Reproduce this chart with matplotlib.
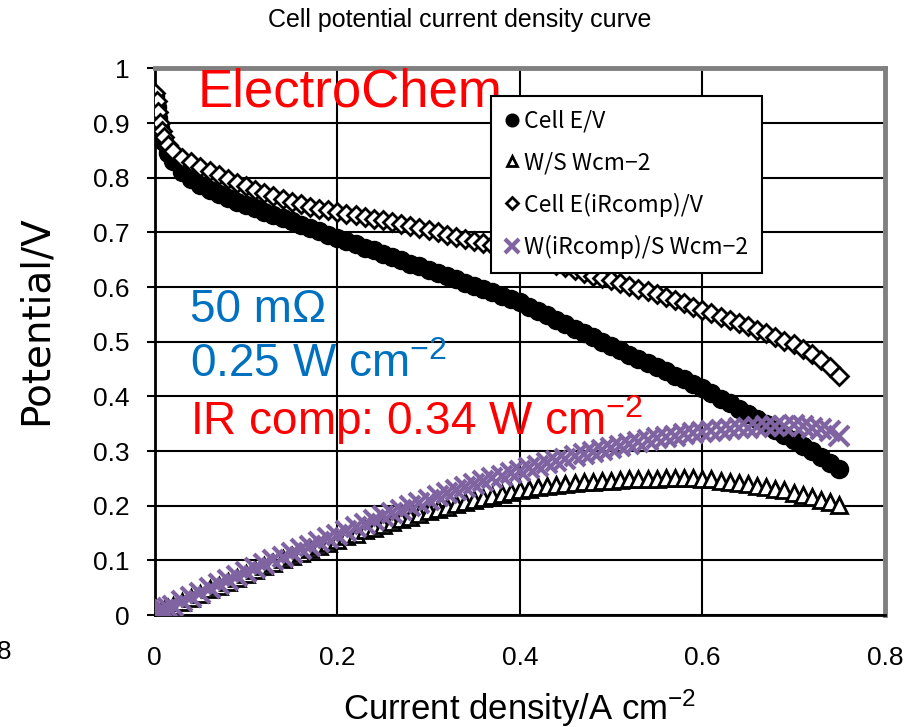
import matplotlib
matplotlib.use("Agg")
import matplotlib.pyplot as plt

# current density / A cm-2
current = [0, 0.002, 0.004, 0.006, 0.008, 0.01, 0.015,
           0.02, 0.03, 0.04, 0.05, 0.06, 0.07, 0.08, 0.09, 0.10, 0.11,
           0.12, 0.13, 0.14, 0.15, 0.16, 0.17, 0.18, 0.19, 0.20, 0.21,
           0.22, 0.23, 0.24, 0.25, 0.26, 0.27, 0.28, 0.29, 0.30, 0.31,
           0.32, 0.33, 0.34, 0.35, 0.36, 0.37, 0.38, 0.39, 0.40, 0.41,
           0.42, 0.43, 0.44, 0.45, 0.46, 0.47, 0.48, 0.49, 0.50, 0.51,
           0.52, 0.53, 0.54, 0.55, 0.56, 0.57, 0.58, 0.59, 0.60, 0.61,
           0.62, 0.63, 0.64, 0.65, 0.66, 0.67, 0.68, 0.69, 0.70, 0.71,
           0.72, 0.73, 0.74, 0.75]

cell_e = [0.95, 0.93, 0.91, 0.89, 0.875, 0.865, 0.845,
          0.83, 0.81, 0.797, 0.787, 0.778, 0.770, 0.763, 0.756, 0.750, 0.744,
          0.738, 0.732, 0.726, 0.720, 0.714, 0.708, 0.702, 0.696, 0.690, 0.684,
          0.678, 0.672, 0.667, 0.661, 0.655, 0.649, 0.643, 0.638, 0.632, 0.626,
          0.620, 0.614, 0.608, 0.602, 0.596, 0.590, 0.584, 0.578, 0.572, 0.564,
          0.556, 0.548, 0.540, 0.532, 0.524, 0.516, 0.508, 0.500, 0.492, 0.484,
          0.476, 0.469, 0.461, 0.453, 0.446, 0.438, 0.431, 0.423, 0.415, 0.406,
          0.396, 0.387, 0.377, 0.368, 0.358, 0.349, 0.339, 0.330, 0.320, 0.310,
          0.300, 0.289, 0.279, 0.268]

power = [0, 0.002, 0.004, 0.005, 0.007, 0.009, 0.013,
         0.017, 0.024, 0.032, 0.039, 0.047, 0.054, 0.061, 0.068, 0.075, 0.082,
         0.089, 0.095, 0.102, 0.108, 0.114, 0.120, 0.126, 0.132, 0.138, 0.144,
         0.149, 0.155, 0.160, 0.165, 0.170, 0.175, 0.180, 0.185, 0.190, 0.194,
         0.198, 0.203, 0.207, 0.211, 0.215, 0.218, 0.222, 0.225, 0.229, 0.231,
         0.234, 0.236, 0.238, 0.239, 0.241, 0.243, 0.244, 0.245, 0.246, 0.247,
         0.248, 0.249, 0.249, 0.249, 0.250, 0.250, 0.250, 0.250, 0.249, 0.248,
         0.246, 0.244, 0.241, 0.239, 0.236, 0.234, 0.231, 0.228, 0.224, 0.220,
         0.216, 0.211, 0.206, 0.201]

cell_e_ir = [0.955, 0.94, 0.92, 0.90, 0.885, 0.875, 0.86,
             0.848, 0.836, 0.828, 0.820, 0.812, 0.805, 0.798, 0.791, 0.784, 0.778,
             0.772, 0.766, 0.761, 0.756, 0.751, 0.747, 0.743, 0.740, 0.737, 0.734,
             0.731, 0.728, 0.725, 0.722, 0.719, 0.716, 0.712, 0.708, 0.704, 0.700,
             0.696, 0.692, 0.688, 0.684, 0.680, 0.676, 0.671, 0.666, 0.661, 0.656,
             0.651, 0.646, 0.641, 0.636, 0.631, 0.626, 0.621, 0.617, 0.612, 0.607,
             0.602, 0.597, 0.592, 0.587, 0.581, 0.576, 0.570, 0.564, 0.558, 0.552,
             0.546, 0.540, 0.534, 0.528, 0.521, 0.515, 0.508, 0.502, 0.495, 0.486,
             0.477, 0.466, 0.454, 0.437]

power_ir = [0, 0.002, 0.004, 0.005, 0.007, 0.009, 0.013,
            0.017, 0.025, 0.033, 0.041, 0.049, 0.056, 0.064, 0.071, 0.078, 0.086,
            0.093, 0.100, 0.107, 0.113, 0.120, 0.127, 0.134, 0.141, 0.147, 0.154,
            0.161, 0.167, 0.174, 0.181, 0.187, 0.193, 0.199, 0.205, 0.211, 0.217,
            0.223, 0.228, 0.234, 0.239, 0.245, 0.250, 0.255, 0.260, 0.264, 0.269,
            0.273, 0.278, 0.282, 0.286, 0.290, 0.294, 0.298, 0.302, 0.306, 0.310,
            0.313, 0.316, 0.320, 0.323, 0.325, 0.328, 0.331, 0.333, 0.335, 0.337,
            0.339, 0.340, 0.342, 0.343, 0.344, 0.345, 0.345, 0.346, 0.347, 0.345,
            0.343, 0.340, 0.336, 0.328]

x_ticks = [0, 0.2, 0.4, 0.6, 0.8]
y_ticks = [0, 0.1, 0.2, 0.3, 0.4, 0.5, 0.6, 0.7, 0.8, 0.9, 1]

plt.rcParams['font.family'] = ['Liberation Sans', 'DejaVu Sans']
plt.rcParams['mathtext.fontset'] = 'custom'
plt.rcParams['mathtext.rm'] = 'Liberation Sans'
plt.rcParams['mathtext.it'] = 'Liberation Sans:italic'
plt.rcParams['mathtext.default'] = 'regular'

fig = plt.figure(figsize=(9.16, 7.27), dpi=100)
ax = fig.add_axes([0.169, 0.154, 0.797, 0.752])

ax.plot(current, cell_e, 'o', color='black', markersize=13, zorder=3,
        label='Cell E/V')
ax.plot(current, power, '^', mfc='white', mec='black', mew=2, markersize=11,
        zorder=4, label='W/S Wcm\u22122')
ax.plot(current, cell_e_ir, 'D', mfc='white', mec='black', mew=2, markersize=9,
        zorder=5, label='Cell E(iRcomp)/V')
ax.plot(current, power_ir, 'x', color='#8064A2', mew=3, markersize=14,
        zorder=6, label='W(iRcomp)/S Wcm\u22122')

ax.set_xlim(0, 0.8)
ax.set_ylim(0, 1)
ax.set_xticks(x_ticks)
ax.set_xticklabels([f'{v:g}' for v in x_ticks])
ax.set_yticks(y_ticks)
ax.set_yticklabels([f'{v:g}' for v in y_ticks])
ax.tick_params(axis='x', length=0, pad=22, labelsize=19)
ax.tick_params(axis='y', length=6, width=1.5, pad=12, labelsize=19)
ax.grid(True, color='black', linewidth=1.5, zorder=1)
ax.set_axisbelow(True)

for s in ['left', 'bottom']:
    ax.spines[s].set_color('black')
    ax.spines[s].set_linewidth(2)
for s in ['top', 'right']:
    ax.spines[s].set_color('#808080')
    ax.spines[s].set_linewidth(3.5)

ax.set_xlabel('Current density/A cm$^{-2}$', fontsize=25)
ax.xaxis.set_label_coords(0.5, -0.170)
ax.xaxis.label.set_va('center')
ax.set_ylabel('Potential/V', fontsize=28, family=['DejaVu Sans'])
ax.yaxis.set_label_coords(-0.163, 0.54)
ax.yaxis.label.set_va('center')
ax.yaxis.label.set_ha('center')

fig.text(0.502, 0.972, 'Cell potential current density curve', fontsize=18,
         ha='center', va='center')

# stray clipped label at the left edge
fig.text(11 / 916, 1 - 652 / 727, '0.8', fontsize=19, ha='right', va='center')

ax.text(0.058, 0.955, 'ElectroChem', color='red', fontsize=38, va='center',
        transform=ax.transAxes)
ax.text(0.048, 0.558, '50 m\u03a9', color='#0070C0', fontsize=33, va='center',
        transform=ax.transAxes)
ax.text(0.048, 0.457, '0.25 W cm$^{-2}$', color='#0070C0', fontsize=33,
        va='center', transform=ax.transAxes)
ax.text(0.048, 0.356, 'IR comp: 0.34 W cm$^{-2}$', color='red', fontsize=33,
        va='center', transform=ax.transAxes)

leg = ax.legend(loc='upper left', bbox_to_anchor=(491 / 916, 1 - 96 / 727),
                bbox_transform=fig.transFigure, borderaxespad=0,
                fancybox=False, framealpha=1, edgecolor='black',
                markerscale=0.7, handlelength=0.6, handletextpad=0.25,
                labelspacing=0.8, borderpad=0.6,
                prop={'family': ['Noto Sans CJK JP', 'DejaVu Sans'], 'size': 16.5})
leg.get_frame().set_linewidth(1.5)
leg.set_zorder(10)

fig.savefig('out.png', dpi=100)
